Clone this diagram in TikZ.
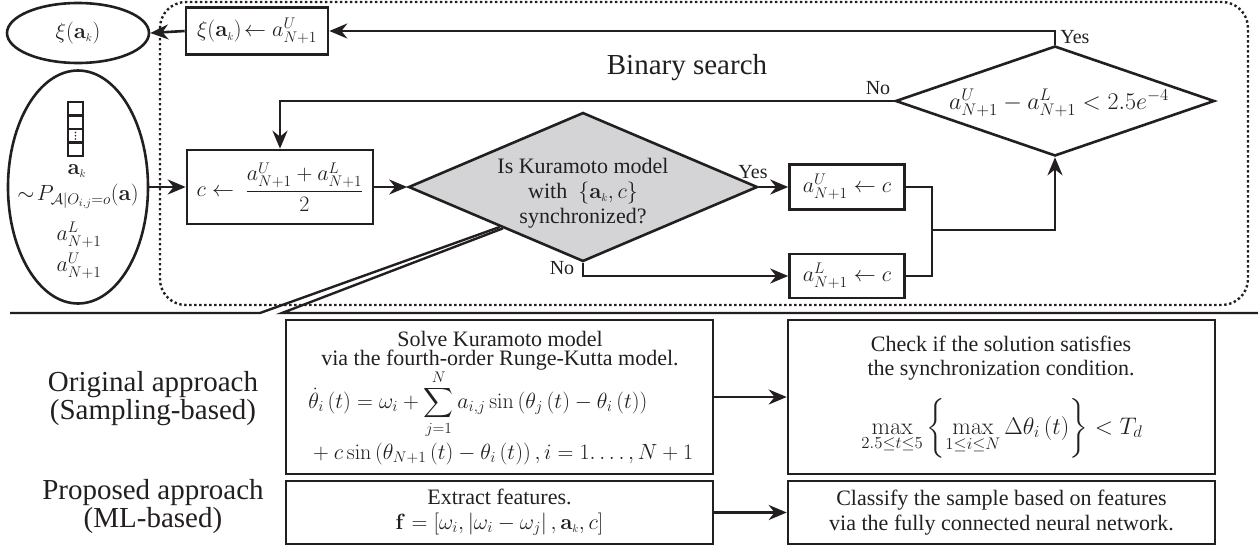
\RequirePackage{fix-cm}
\documentclass[tikz,border=0pt]{standalone}
\usepackage{exscale}
\usepackage[no-math]{fontspec}
\setmainfont{Liberation Serif}
\usetikzlibrary{shapes.geometric,arrows.meta,calc}
\definecolor{ink}{RGB}{35,31,32}
\definecolor{dgray}{RGB}{212,212,214}
\newcommand\fa{\fontsize{22}{25}\selectfont}
\newcommand\fm{\fontsize{24}{27}\selectfont}
\newcommand\fb{\fontsize{29}{28}\selectfont}
\newcommand\fc{\fontsize{20}{24}\selectfont}
\newcommand\ak{\mathbf{a}_{\scriptscriptstyle k}}
\begin{document}
\begin{tikzpicture}[x=1pt,y=-1pt,line width=2.6pt,draw=ink,color=ink,
  >={Stealth[length=18pt,width=15pt]},
  box/.style={draw=ink,line width=2.6pt,rectangle,inner sep=0pt,align=center,font=\fa},
  ell/.style={draw=ink,line width=2.6pt,ellipse,inner sep=0pt,font=\fa},
  dia/.style={draw=ink,line width=2.6pt,diamond,inner sep=0pt},
  txt/.style={font=\fa,inner sep=0pt,align=center},
  lab/.style={font=\fc,inner sep=0pt},
  frame/.style={draw=ink,line width=2.4pt,dash pattern=on 2.4pt off 2.6pt,rounded corners=26pt}]
\useasboundingbox (0,0) rectangle (1258,552);

% left input / output
\node[ell,minimum width=142pt,minimum height=60pt] (xi) at (78,33) {$\xi(\ak)$};
\node[ell,minimum width=140pt,minimum height=233pt] (inp) at (78,187) {};
\foreach \i in {0,1,2,3}
  \draw[line width=2.6pt] (68,{102+13.5*\i}) rectangle (83,{115.5+13.5*\i});
\foreach \j in {0,1,2}
  \fill (75.5,{132.5+3.2*\j}) circle (0.9pt);
\node[txt] (akn) at (77,171) {$\ak$};
\node[txt] (pa) at (78,196) {$\sim\!P_{\mathcal{A}|O_{i,j}=o}(\mathbf{a})$};
\node[txt] (al) at (79,235) {$a^L_{N+1}$};
\node[txt] (au) at (79,266) {$a^U_{N+1}$};

% binary search frame
\draw[frame] (160,2) rectangle (1248,305);
\node[font=\fb,inner sep=0pt] (bs) at (687,68) {Binary search};

\node[box,minimum width=142pt,minimum height=47pt] (bxi) at (257,31) {$\xi(\ak)\!\leftarrow a^U_{N+1}$};
\node[box,minimum width=186pt,minimum height=74pt] (bc) at (280,187) {$c\leftarrow\ \displaystyle\frac{a^U_{N+1}+a^L_{N+1}}{2}$};
\node[dia,fill=dgray,minimum width=349pt,minimum height=149pt] (d1) at (583,187) {};
\node[txt] (d1t) at (583,193) {Is Kuramoto model\\ with\ \ $\{\ak,c\}$\\ synchronized?};
\node[dia,fill=white,minimum width=319pt,minimum height=110pt] (d2) at (1055,101) {};
\node[font=\fm,inner sep=0pt] (d2t) at (1059,103) {$a^U_{N+1}-a^L_{N+1}<2.5e^{-4}$};
\node[box,minimum width=115pt,minimum height=45pt] (bu) at (847,187) {$a^U_{N+1}\leftarrow c$};
\node[box,minimum width=115pt,minimum height=44pt] (bl) at (847,276) {$a^L_{N+1}\leftarrow c$};

% connectors top
\draw[->] (d2.north) |- (bxi.east);
\node[lab,anchor=west] at (1059,37) {Yes};
\draw[->] (bxi.west) -- (xi.east);
\draw[->] (d2.west) -| (bc.north);
\node[lab] at (878,88) {No};
\draw[->] (inp.east) -- (bc.west);
\draw[->] (bc.east) -- (d1.west);
\draw[->] (d1.east) -- (bu.west);
\node[lab] at (753,172) {Yes};
\draw[->] (d1.south) |- (bl.west);
\node[lab] at (562,268) {No};
\coordinate (mj) at (932,230);
\draw (bu.east) -| (mj);
\draw (bl.east) -| (mj);
\draw[->] (mj) -| (d2.south);

% callout
\coordinate (cp1) at ($(d1.west)!0.527!(d1.south)$);
\coordinate (cp2) at ($(d1.west)!0.545!(d1.south)$);
\coordinate (hl0) at (10,313);
\coordinate (hl1) at (260,313);
\coordinate (hl2) at (282,313);
\coordinate (hl3) at (1258,313);
\draw[line width=2.4pt] (hl0) -- (hl1) -- (cp1);
\draw[line width=2.4pt] (cp2) -- (hl2) -- (hl3);

% bottom part
\node[font=\fb,align=center,inner sep=0pt] (orig) at (153,399) {Original approach\\ (Sampling-based)};
\node[font=\fb,align=center,inner sep=0pt] (prop) at (153,507) {Proposed approach\\ (ML-based)};

\node[box,minimum width=427pt,minimum height=154pt] (solve) at (499.5,397) {};
\node[txt] (s1) at (500,339) {Solve Kuramoto model};
\node[txt] (s2) at (500,360) {via the fourth-order Runge-Kutta model.};
\node[txt,anchor=west] (s3) at (307,404) {$\displaystyle\dot{\theta}_i\left(t\right)=\omega_i+\sum_{j=1}^{N}a_{i,j}\sin\left(\theta_j\left(t\right)-\theta_i\left(t\right)\right)$};
\node[txt,anchor=west] (s4) at (307,454) {${}+c\sin\left(\theta_{N+1}\left(t\right)-\theta_i\left(t\right)\right),i=1.\ldots,N+1$};

\node[box,minimum width=427pt,minimum height=154pt] (check) at (1001.5,397) {};
\node[txt] (c1) at (1001,344) {Check if the solution satisfies};
\node[txt] (c2) at (1001,370) {the synchronization condition.};
\node[font=\fm,inner sep=0pt] (c3) at (1002,428) {$\displaystyle\max_{2.5\leq t\leq 5}\left\{\max_{1\leq i\leq N}\Delta\theta_i\left(t\right)\right\}<T_d$};

\node[box,minimum width=427pt,minimum height=63pt] (extract) at (499.5,512.5)
 {Extract features.\\ $\mathbf{f}=\left[\omega_i,\left|\omega_i-\omega_j\right|,\ak,c\right]$};
\node[box,minimum width=427pt,minimum height=63pt] (classify) at (1001.5,512.5)
 {Classify the sample based on features\\ via the fully connected neural network.};
\draw[->] (solve.east) -- (check.west);
\draw[->] (extract.east) -- (classify.west);
\end{tikzpicture}
\end{document}
